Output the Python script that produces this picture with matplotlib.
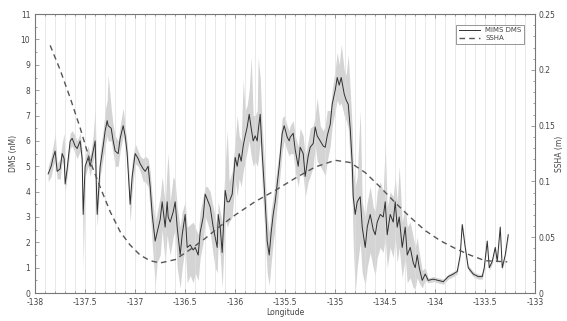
import numpy as np
import matplotlib
matplotlib.use('Agg')
import matplotlib.pyplot as plt
from matplotlib.ticker import MultipleLocator, FormatStrFormatter

# DMS along track (longitude, mean and min/max envelope)
lon = [-137.87, -137.84, -137.82, -137.80, -137.78, -137.75, -137.73, -137.71, -137.70, -137.68,
       -137.65, -137.63, -137.60, -137.58, -137.55, -137.53, -137.52, -137.50, -137.47, -137.45,
       -137.42, -137.40, -137.38, -137.35, -137.32, -137.30, -137.28, -137.27, -137.24, -137.22,
       -137.20, -137.17, -137.15, -137.12, -137.10, -137.08, -137.05, -137.03, -137.00, -136.97,
       -136.95, -136.92, -136.90, -136.87, -136.85, -136.83, -136.80, -136.78, -136.75, -136.73,
       -136.70, -136.68, -136.67, -136.65, -136.62, -136.60, -136.58, -136.55, -136.53, -136.50,
       -136.48, -136.45, -136.42, -136.40, -136.37, -136.35, -136.32, -136.30, -136.28, -136.25,
       -136.22, -136.20, -136.18, -136.17, -136.15, -136.13, -136.10, -136.08, -136.06, -136.03,
       -136.00, -135.98, -135.96, -135.94, -135.92, -135.90, -135.88, -135.86, -135.84, -135.82,
       -135.80, -135.78, -135.77, -135.75, -135.73, -135.70, -135.68, -135.66, -135.64, -135.62,
       -135.60, -135.58, -135.56, -135.53, -135.51, -135.48, -135.46, -135.45, -135.42, -135.40,
       -135.37, -135.35, -135.32, -135.30, -135.27, -135.25, -135.22, -135.20, -135.18, -135.15,
       -135.12, -135.10, -135.08, -135.05, -135.03, -135.00, -134.98, -134.96, -134.94, -134.91,
       -134.89, -134.87, -134.85, -134.83, -134.82, -134.80, -134.78, -134.75, -134.73, -134.70,
       -134.68, -134.65, -134.62, -134.60, -134.58, -134.55, -134.52, -134.50, -134.48, -134.45,
       -134.42, -134.40, -134.38, -134.36, -134.33, -134.30, -134.28, -134.25, -134.22, -134.20,
       -134.18, -134.16, -134.13, -134.10, -134.07, -134.02, -133.97, -133.92, -133.87, -133.82,
       -133.78, -133.75, -133.73, -133.70, -133.67, -133.62, -133.57, -133.53, -133.51, -133.48,
       -133.46, -133.43, -133.40, -133.38, -133.35, -133.33, -133.30, -133.27]

dms_mean = [4.7, 5.0, 5.35, 5.6, 4.8, 4.9, 5.5, 5.3, 4.3, 4.9,
            6.0, 6.1, 5.8, 5.7, 6.0, 5.3, 3.1, 5.0, 5.35, 5.0,
            5.6, 6.0, 3.1, 5.0, 5.8, 6.4, 6.8, 6.6, 6.5, 6.0,
            5.6, 5.5, 6.1, 6.6, 6.2, 5.5, 3.5, 4.6, 5.5, 5.3,
            5.1, 4.9, 4.8, 5.0, 4.2, 3.1, 2.05, 2.4, 2.9, 3.6,
            2.6, 3.6, 3.0, 2.8, 3.2, 3.6, 2.6, 1.5, 2.3, 3.1,
            1.8, 1.9, 1.7, 1.8, 1.5, 2.4, 3.0, 3.9, 3.7, 3.4,
            2.6, 2.2, 1.8, 3.1, 2.6, 1.6, 4.05, 3.6, 3.6, 3.9,
            5.35, 5.0, 5.5, 5.2, 5.8, 6.2, 6.55, 7.05, 6.5, 6.0,
            6.2, 6.0, 6.4, 7.05, 5.5, 3.6, 2.05, 1.5, 2.4, 3.1,
            3.6, 4.3, 5.0, 6.3, 6.6, 6.15, 6.0, 6.15, 6.3, 5.65,
            5.0, 5.75, 5.5, 4.6, 5.4, 5.75, 5.9, 6.55, 6.2, 6.0,
            5.8, 5.75, 6.2, 6.65, 7.45, 8.0, 8.5, 8.2, 8.5, 7.85,
            7.6, 7.45, 6.5, 5.1, 3.8, 3.1, 3.6, 3.8, 2.6, 1.8,
            2.6, 3.1, 2.5, 2.3, 2.8, 3.1, 3.0, 3.6, 2.3, 3.1,
            2.8, 3.6, 2.6, 3.0, 1.8, 2.6, 1.5, 1.8, 1.2, 1.0,
            1.5, 1.0, 0.5, 0.75, 0.5, 0.55, 0.5, 0.45, 0.65, 0.75,
            0.85, 1.5, 2.7, 1.8, 1.0, 0.75, 0.65, 0.65, 1.0, 2.05,
            1.0, 1.25, 1.8, 1.25, 2.6, 1.0, 1.5, 2.3]

dms_lo = [4.4, 4.6, 5.0, 5.2, 4.5, 4.5, 5.2, 5.0, 4.0, 4.6,
          5.7, 5.8, 5.5, 5.3, 5.6, 4.8, 1.0, 4.6, 5.0, 4.6,
          5.2, 5.5, 2.6, 4.6, 5.3, 5.8, 6.2, 6.0, 6.0, 5.5,
          5.0, 5.0, 5.6, 6.2, 5.8, 5.0, 2.8, 4.0, 5.1, 5.0,
          4.8, 4.4, 4.4, 4.2, 3.3, 2.0, 0.3, 1.2, 1.5, 2.5,
          1.2, 2.3, 2.0, 1.5, 2.2, 2.5, 1.0, 0.2, 1.0, 1.8,
          0.4, 0.7, 0.4, 0.8, 0.5, 1.4, 2.0, 3.0, 2.8, 2.4,
          1.5, 1.0, 0.8, 2.0, 1.5, 0.2, 3.0, 2.6, 2.8, 3.0,
          4.5, 3.8, 4.5, 4.2, 4.8, 5.2, 5.6, 6.0, 5.4, 5.0,
          5.2, 5.0, 5.2, 6.0, 4.2, 2.2, 0.8, 0.3, 1.2, 2.0,
          2.6, 3.5, 4.3, 5.6, 6.0, 5.6, 5.4, 5.5, 5.5, 4.8,
          4.2, 4.8, 4.6, 3.8, 4.4, 4.6, 5.0, 5.8, 5.2, 5.0,
          4.8, 4.6, 5.2, 5.8, 6.6, 7.2, 7.6, 7.4, 7.5, 7.0,
          6.8, 6.5, 5.2, 3.6, 2.0, 0.0, 1.0, 2.0, 0.8, 0.3,
          1.0, 1.6, 1.0, 0.7, 1.4, 1.8, 1.6, 2.2, 1.0, 1.8,
          1.4, 2.2, 1.2, 1.8, 0.6, 1.4, 0.4, 0.6, 0.2, 0.2,
          0.6, 0.4, 0.2, 0.5, 0.4, 0.45, 0.4, 0.35, 0.55, 0.65,
          0.75, 1.4, 2.6, 1.7, 0.9, 0.65, 0.55, 0.55, 0.9, 1.95,
          0.9, 1.15, 1.7, 1.15, 2.5, 0.9, 1.4, 2.2]

dms_hi = [5.0, 5.4, 5.8, 6.3, 5.1, 5.3, 5.9, 6.3, 4.6, 5.2,
          6.3, 6.4, 6.2, 6.0, 6.3, 5.6, 3.5, 5.4, 5.8, 5.4,
          6.2, 7.3, 3.8, 5.6, 6.4, 7.2, 7.6, 8.6, 7.3, 6.6,
          6.2, 6.0, 6.6, 7.3, 6.6, 5.9, 4.0, 5.2, 5.9, 5.6,
          5.4, 5.3, 5.4, 5.3, 4.8, 3.8, 2.8, 3.2, 3.8, 4.6,
          3.5, 5.0, 5.5, 3.6, 4.6, 4.4, 3.4, 2.6, 3.2, 3.6,
          2.6, 2.7, 2.8, 2.6, 2.3, 3.2, 3.8, 4.2, 4.2, 4.0,
          3.4, 3.0, 2.6, 3.6, 3.2, 2.8, 5.0, 6.4, 4.4, 4.8,
          6.0, 7.0, 6.2, 6.0, 8.4, 7.2, 7.4, 8.0, 9.3, 7.0,
          7.0, 7.2, 9.3, 8.5, 6.6, 4.6, 3.0, 2.4, 3.3, 3.8,
          4.3, 5.0, 5.6, 6.9, 7.0, 6.6, 6.4, 6.6, 6.8, 6.2,
          5.8, 6.5, 6.2, 5.4, 6.0, 6.5, 6.6, 7.0, 7.7, 6.6,
          6.4, 6.6, 7.2, 7.2, 8.0, 8.8, 9.5, 9.0, 9.8, 8.8,
          8.6, 9.4, 8.0, 6.5, 5.0, 4.2, 4.6, 7.2, 3.6, 3.0,
          3.6, 4.2, 3.4, 3.2, 4.0, 4.4, 4.0, 5.9, 3.4, 4.0,
          3.8, 4.6, 3.6, 5.0, 2.8, 3.4, 2.6, 2.8, 2.2, 1.8,
          2.2, 1.6, 0.9, 1.0, 0.6, 0.65, 0.6, 0.55, 0.75, 0.85,
          0.95, 1.6, 2.8, 1.9, 1.1, 0.85, 0.75, 0.75, 1.1, 2.15,
          1.1, 1.35, 1.9, 1.35, 2.7, 1.1, 1.6, 2.4]

# sea surface height anomaly (right axis)
ssha_lon = [-137.85, -137.75, -137.65, -137.55, -137.45, -137.35, -137.25, -137.15, -137.05,
            -136.95, -136.85, -136.75, -136.6, -136.45, -136.3, -136.15, -136.0, -135.8,
            -135.6, -135.4, -135.2, -135.0, -134.85, -134.7, -134.55, -134.4, -134.25,
            -134.1, -133.95, -133.8, -133.65, -133.5, -133.28]
ssha = [0.222, 0.200, 0.175, 0.148, 0.118, 0.095, 0.073, 0.055, 0.043,
        0.034, 0.029, 0.027, 0.030, 0.039, 0.049, 0.060, 0.070, 0.082,
        0.092, 0.103, 0.113, 0.119, 0.117, 0.108, 0.095, 0.081, 0.068,
        0.056, 0.047, 0.040, 0.034, 0.029, 0.028]

txt = '#444444'
plt.rcParams['font.size'] = 5.5
plt.rcParams['axes.edgecolor'] = '#777777'
plt.rcParams['xtick.color'] = '#777777'
plt.rcParams['ytick.color'] = '#777777'
plt.rcParams['xtick.labelcolor'] = txt
plt.rcParams['ytick.labelcolor'] = txt

fig = plt.figure(figsize=(5.67, 3.21), dpi=100)
ax = fig.add_axes([0.062, 0.087, 0.882, 0.869])

ax.fill_between(lon, dms_lo, dms_hi, color='#d4d4d4', lw=0, zorder=1)
l1, = ax.plot(lon, dms_mean, color='#303030', lw=0.7, zorder=3, label='MIMS DMS')

ax.set_xlim(-138, -133)
ax.set_ylim(0, 11)
ax.xaxis.set_major_locator(MultipleLocator(0.5))
ax.xaxis.set_minor_locator(MultipleLocator(0.1))
ax.xaxis.set_major_formatter(FormatStrFormatter('%g'))
ax.yaxis.set_major_locator(MultipleLocator(1))
ax.yaxis.set_minor_locator(MultipleLocator(0.5))
ax.grid(True, which='both', axis='x', color='#dedede', lw=0.5, zorder=0)
ax.tick_params(which='both', direction='in', top=True, width=0.5)
ax.tick_params(which='major', length=3)
ax.tick_params(which='minor', length=1.5)
ax.set_xlabel('Longitude', color=txt, labelpad=1)
ax.set_ylabel('DMS (nM)', color=txt, labelpad=2)
for s in ax.spines.values():
    s.set_linewidth(0.6)

ax2 = ax.twinx()
l2, = ax2.plot(ssha_lon, ssha, color='#555555', lw=1.0, ls=(0, (4, 3)), zorder=4, label='SSHA')
ax2.set_ylim(0, 0.25)
ax2.yaxis.set_major_locator(MultipleLocator(0.05))
ax2.yaxis.set_minor_locator(MultipleLocator(0.01))
ax2.yaxis.set_major_formatter(FormatStrFormatter('%g'))
ax2.tick_params(which='both', direction='in', width=0.5, pad=2)
ax2.tick_params(which='major', length=3)
ax2.tick_params(which='minor', length=1.5)
ax2.set_ylabel('SSHA (m)', color=txt, labelpad=0)

leg = ax2.legend(handles=[l1, l2], loc='upper right', fontsize=5, frameon=True,
                 fancybox=False, edgecolor='#666666', handlelength=3,
                 borderpad=0.4, labelspacing=0.3, bbox_to_anchor=(0.985, 0.975))
leg.get_frame().set_linewidth(0.6)
for t in leg.get_texts():
    t.set_color(txt)

fig.savefig('out.png', dpi=100)
